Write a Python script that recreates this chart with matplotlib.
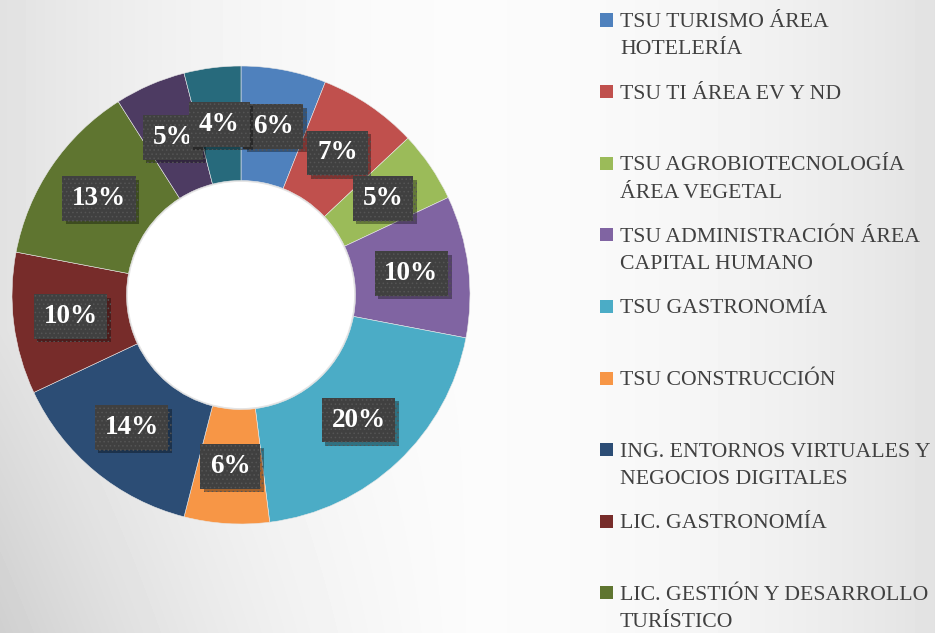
#____________________________________________________________________________________________________
# imports
import matplotlib
matplotlib.use("Agg")
import matplotlib.pyplot as plt
import matplotlib.patches as patches
import matplotlib.patheffects as pe
import numpy as np

#____________________________________________________________________________________________________
# data
# only the first nine legend entries are visible in the source, the last two slices have no readable name
carreras = [
    "TSU TURISMO ÁREA\nHOTELERÍA",
    "TSU TI ÁREA EV Y ND",
    "TSU AGROBIOTECNOLOGÍA\nÁREA VEGETAL",
    "TSU ADMINISTRACIÓN ÁREA\nCAPITAL HUMANO",
    "TSU GASTRONOMÍA",
    "TSU CONSTRUCCIÓN",
    "ING. ENTORNOS VIRTUALES Y\nNEGOCIOS DIGITALES",
    "LIC. GASTRONOMÍA",
    "LIC. GESTIÓN Y DESARROLLO\nTURÍSTICO",
]
porcentajes = [6, 7, 5, 10, 20, 6, 14, 10, 13, 5, 4]
colores = ["#4F81BD", "#C0504D", "#9BBB59", "#8064A2", "#4BACC6", "#F79646",
           "#2C4D75", "#772C2A", "#5F7530", "#4D3B62", "#276A7C"]

W, H = 935, 633
SERIF = ["Liberation Serif", "DejaVu Serif"]

#____________________________________________________________________________________________________
# helpers

def px(x, y):
    # pixel position (top-left origin) -> figure fraction
    return x / W, 1 - y / H

def draw_background(fig):
    bg = fig.add_axes([0, 0, 1, 1], zorder=-10)
    yy, xx = np.mgrid[0:H, 0:W].astype(float)
    xn = (xx - 470) / W
    yb = np.clip((yy - 330) / 300.0, 0, None) * np.clip(-xn, 0, None) * 2
    img = 0.985 - 0.40 * xn ** 2 - 0.07 * yb
    bg.imshow(img, cmap="gray", vmin=0, vmax=1, aspect="auto",
              extent=[0, 1, 0, 1], interpolation="bilinear")
    bg.set_axis_off()

def draw_legend(fig):
    for i, (lab, col) in enumerate(zip(carreras, colores)):
        base = 27 + i * 71.6
        x0, y0 = px(600, base - 7)
        fig.patches.append(patches.Rectangle((x0, y0 - 6.5 / H), 13 / W, 13 / H,
                                             transform=fig.transFigure,
                                             facecolor=col, edgecolor="none"))
        for j, line in enumerate(lab.split("\n")):
            tx, ty = px(620, base + j * 27.5)
            fig.text(tx, ty, line, fontsize=15.7, family=SERIF,
                     color="#404040", va="baseline", ha="left")

#____________________________________________________________________________________________________
# main

def main():
    fig = plt.figure(figsize=(W / 100, H / 100), dpi=100)
    draw_background(fig)

    cx, cy, r = 241, 295, 229
    ax = fig.add_axes([(cx - r) / W, (H - cy - r) / H, 2 * r / W, 2 * r / H])
    wedges, texts, autotexts = ax.pie(
        porcentajes, colors=colores, startangle=90, counterclock=False,
        radius=1, autopct=lambda p: "{:.0f}%".format(p), pctdistance=0.75,
        wedgeprops=dict(width=0.5, edgecolor="#e8e8e8", linewidth=0.4))
    ax.add_patch(patches.Circle((0, 0), 0.5, facecolor="white",
                                edgecolor="#e4e4e4", linewidth=2, zorder=0.5))
    ax.set_xlim(-1, 1)
    ax.set_ylim(-1, 1)
    ax.set_axis_off()

    plt.rcParams["hatch.linewidth"] = 0.6
    for t in autotexts:
        t.set_fontsize(19.5)
        t.set_family(SERIF)
        t.set_fontweight("bold")
        t.set_color("white")
        t.set_bbox(dict(boxstyle="square,pad=0.36", facecolor="#404040",
                        edgecolor="#555555", linewidth=0, hatch="...."))
        t.get_bbox_patch().set_path_effects(
            [pe.SimplePatchShadow(offset=(2.5, -2.5), shadow_rgbFace="black", alpha=0.35),
             pe.Normal()])

    draw_legend(fig)
    fig.savefig("out.png", dpi=100)

if __name__ == "__main__":
    main()
